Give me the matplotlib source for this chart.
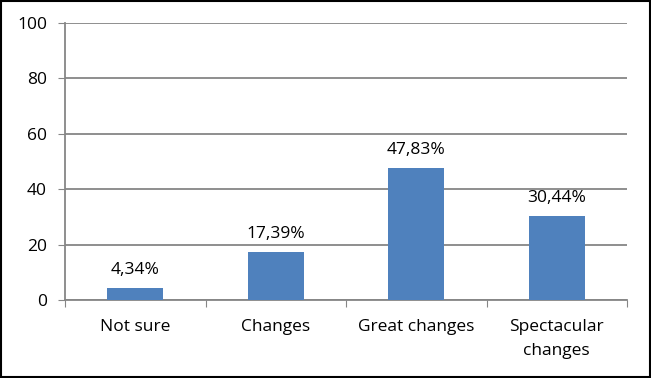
import matplotlib.pyplot as plt
import numpy as np

categorias = ['Not sure', 'Changes', 'Great changes', 'Spectacular\nchanges']
valores = [4.34, 17.39, 47.83, 30.44]
rotulos = ['4,34%', '17,39%', '47,83%', '30,44%']

plt.rcParams['font.family'] = ['Open Sans', 'DejaVu Sans']

fig = plt.figure(figsize=(6.51, 3.78), dpi=100)
ax = fig.add_axes([65 / 651, 1 - 300 / 378, (627 - 65) / 651, (300 - 23) / 378])

x = np.arange(len(categorias))
barras = ax.bar(x, valores, 0.4, color='#4F81BD', zorder=3)
for barra, rot in zip(barras, rotulos):
    ax.annotate(rot, xy=(barra.get_x() + barra.get_width() / 2, barra.get_height()),
                xytext=(0, 7), textcoords='offset points',
                ha='center', va='bottom', fontsize=12.5)

ax.set_xlim(-0.5, len(categorias) - 0.5)
ax.set_ylim(0, 100)
ax.set_yticks(range(0, 101, 20))
ax.tick_params(axis='y', labelsize=12.5, length=5, color='#868686', pad=8)
ax.yaxis.grid(True, color='#868686', linewidth=1.3, zorder=0)

# ticks do eixo x entre as categorias
ax.set_xticks(np.arange(-0.5, len(categorias)), minor=False)
ax.set_xticklabels([])
ax.set_xticks(x, minor=True)
ax.set_xticklabels(categorias, minor=True, fontsize=12.5, linespacing=1.6)
ax.tick_params(axis='x', which='major', length=5, color='#868686')
ax.tick_params(axis='x', which='minor', length=0, pad=14)

for lado in ['top', 'right']:
    ax.spines[lado].set_visible(False)
for lado in ['left', 'bottom']:
    ax.spines[lado].set_color('#868686')
    ax.spines[lado].set_linewidth(1.3)

fig.patches.append(plt.Rectangle((0.001, 0.002), 0.997, 0.995, transform=fig.transFigure,
                                 fill=False, edgecolor='black', linewidth=1.5))

plt.savefig('out.png', dpi=100)
